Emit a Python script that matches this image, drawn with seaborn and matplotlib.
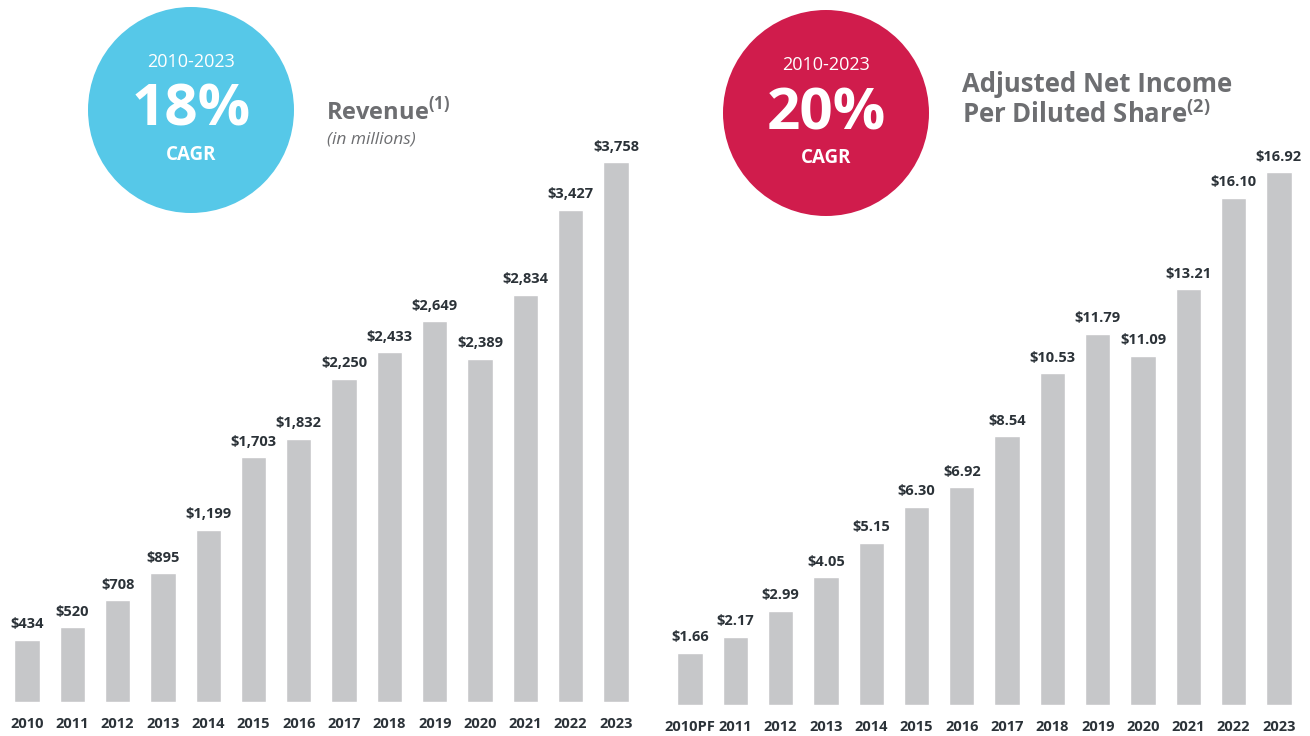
import matplotlib
matplotlib.use('Agg')
import matplotlib.pyplot as plt
from matplotlib.patches import Circle
import seaborn as sns
import pandas as pd

# data
rev_years = ['2010', '2011', '2012', '2013', '2014', '2015', '2016',
             '2017', '2018', '2019', '2020', '2021', '2022', '2023']
revenue = [434, 520, 708, 895, 1199, 1703, 1832, 2250, 2433, 2649, 2389, 2834, 3427, 3758]

eps_years = ['2010PF', '2011', '2012', '2013', '2014', '2015', '2016',
             '2017', '2018', '2019', '2020', '2021', '2022', '2023']
eps = [1.66, 2.17, 2.99, 4.05, 5.15, 6.30, 6.92, 8.54, 10.53, 11.79, 11.09, 13.21, 16.10, 16.92]

rev_cagr = '18%'
eps_cagr = '20%'
cagr_period = '2010-2023'

BAR = '#c6c7c9'
DARK = '#2b3238'
GREY_TITLE = '#6d6e71'
CYAN = '#56c8e8'
CRIMSON = '#d01c4c'

sns.set_style('white')
plt.rcParams['font.family'] = ['Open Sans', 'DejaVu Sans']
plt.rcParams['mathtext.fontset'] = 'custom'
plt.rcParams['mathtext.bf'] = 'Open Sans:bold'
plt.rcParams['mathtext.rm'] = 'Open Sans'

W, H = 1310, 736
fig = plt.figure(figsize=(W / 100, H / 100), dpi=100)


def px_axes(left, bottom_px, width, height):
    # position given in pixels, bottom measured from top of figure
    return fig.add_axes([left / W, (H - bottom_px) / H, width / W, height / H])


def draw_bars(ax, cats, vals, labels, ymax):
    df = pd.DataFrame({'cat': cats, 'val': vals})
    sns.barplot(data=df, x='cat', y='val', color=BAR, saturation=1,
                width=0.56, ax=ax)
    ax.bar_label(ax.containers[0], labels=labels, padding=6, fontsize=10.5,
                 fontweight='bold', color=DARK)
    ax.set_ylim(0, ymax)
    ax.set_xlim(-0.5, len(cats) - 0.5)
    ax.set_xlabel('')
    ax.set_ylabel('')
    ax.set_yticks([])
    ax.tick_params(axis='x', length=0, pad=11, labelsize=10.5, labelcolor=DARK)
    for t in ax.get_xticklabels():
        t.set_fontweight('bold')
    sns.despine(ax=ax, left=True, bottom=True)
    ax.patch.set_alpha(0)


# revenue panel
step = 45.3
ax1 = px_axes(27 - step / 2, 702, step * 14, 540 * 4000 / 3758)
draw_bars(ax1, rev_years, revenue, [f'${v:,}' for v in revenue], 4000)

# adjusted EPS panel
ax2 = px_axes(690 - step / 2, 705, step * 14, 533 * 18 / 16.92)
draw_bars(ax2, eps_years, eps, [f'${v:.2f}' for v in eps], 18)

# overlay for circles and titles
ov = fig.add_axes([0, 0, 1, 1])
ov.set_xlim(0, W)
ov.set_ylim(H, 0)
ov.axis('off')
ov.patch.set_alpha(0)

for cx, cy, col, pct in [(191, 110, CYAN, rev_cagr), (826, 113, CRIMSON, eps_cagr)]:
    ov.add_patch(Circle((cx, cy), 103, color=col, lw=0))
    ov.text(cx, cy - 48, cagr_period, ha='center', va='center', color='white', fontsize=13)
    ov.text(cx, cy + 1, pct, ha='center', va='center', color='white', fontsize=42,
            fontweight='bold')
    ov.text(cx, cy + 45, 'CAGR', ha='center', va='center', color='white', fontsize=13.5,
            fontweight='bold')

ov.text(326, 112, r'Revenue$^{\mathbf{(1)}}$', ha='left', va='center', color=GREY_TITLE,
        fontsize=17, fontweight='bold')
ov.text(327, 140, '(in millions)', ha='left', va='center', color=GREY_TITLE,
        fontsize=12.5, fontstyle='italic')
ov.text(962, 85, 'Adjusted Net Income', ha='left', va='center', color=GREY_TITLE,
        fontsize=18.5, fontweight='bold')
ov.text(962, 115, r'Per Diluted Share$^{\mathbf{(2)}}$', ha='left', va='center',
        color=GREY_TITLE, fontsize=18.5, fontweight='bold')

fig.savefig('out.png', dpi=100)
